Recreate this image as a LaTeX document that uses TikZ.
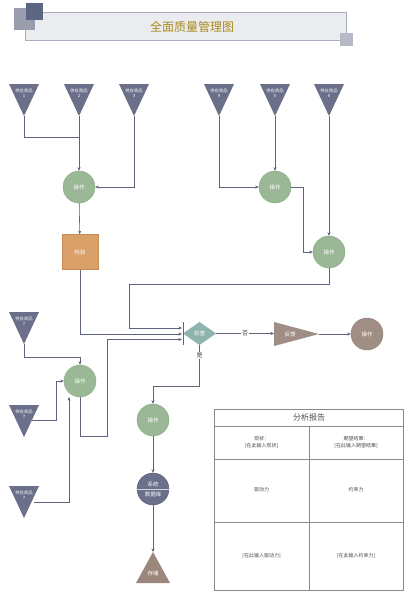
\documentclass[tikz,border=0pt]{standalone}
\usepackage{fontspec}
\setmainfont{Noto Sans CJK SC}
\usetikzlibrary{shapes.geometric,arrows.meta}
\definecolor{lnc}{HTML}{5E6380}
\definecolor{trif}{HTML}{6B6F8A}
\definecolor{opf}{HTML}{9BB896}
\definecolor{opd}{HTML}{86A882}
\definecolor{orf}{HTML}{D9A06A}
\definecolor{ord}{HTML}{C98C55}
\definecolor{diaf}{HTML}{8FB3AD}
\definecolor{brf}{HTML}{A08E84}
\definecolor{dbf}{HTML}{6A6F8A}
\definecolor{stf}{HTML}{9B877C}
\definecolor{goldt}{HTML}{A88A1C}
\definecolor{tbl}{HTML}{8A8A8A}
\definecolor{sqa}{HTML}{9A9DAE}
\definecolor{sqb}{HTML}{5C6582}
\definecolor{sqc}{HTML}{B7B9C7}
\definecolor{banf}{HTML}{EBECEF}
\definecolor{band}{HTML}{A9ACBC}
\tikzset{
  conn/.style={draw=lnc, line width=0.6pt},
  arr/.style={conn, -{Stealth[length=3.5pt,width=3pt]}},
  opnode/.style={circle, minimum size=32pt, inner sep=0pt, fill=opf, draw=opd, line width=0.4pt, text=white, font=\fontsize{5.5}{6}\selectfont},
  tritext/.style={text=white, font=\fontsize{4.3}{5}\selectfont, align=center, inner sep=0pt},
  lbl/.style={fill=white, inner sep=1pt, font=\fontsize{6}{7}\selectfont, text=black!75},
  cell/.style={font=\fontsize{5}{6.5}\selectfont, text=black!70, align=center}
}
\newcommand{\invtri}[4]{%
  \fill[trif] ({#2-15},#3) -- ({#2+15},#3) -- (#2,{#3+32}) -- cycle;
  \node[tritext] (#1) at (#2,{#3+9}) {供应商品\\#4};
  \coordinate (#1-a) at (#2,{#3+32});
}
\begin{document}
\begin{tikzpicture}[x=1pt,y=-1pt]
\useasboundingbox (0,0) rectangle (410,600);
\fill[white] (0,0) rectangle (410,600);
% title
\filldraw[fill=banf, draw=band, line width=0.6pt] (25,12) rectangle (346,40);
\fill[sqa] (14,8) rectangle (35,30);
\fill[sqb] (26,3) rectangle (43,20);
\fill[sqc] (340,33) rectangle (353,46);
\node[text=goldt, font=\fontsize{12}{14}\selectfont] (title) at (192,27) {全面质量管理图};
% top triangles
\invtri{t1}{24}{84}{1}
\invtri{t2}{79}{84}{2}
\invtri{t3}{134}{84}{3}
\invtri{t4}{219}{84}{4}
\invtri{t5}{275}{84}{5}
\invtri{t6}{329}{84}{6}
% left triangles
\invtri{t7}{24}{312}{7}
\invtri{t8}{24}{405}{7}
\invtri{t9}{24}{486}{7}
% operation nodes
\node[opnode] (op1) at (79,187) {操作};
\node[opnode] (op4) at (275,187) {操作};
\node[opnode] (op6) at (329,252) {操作};
\node[opnode] (op7) at (80,381) {操作};
\node[opnode] (op5) at (153,420) {操作};
% check square
\node[rectangle, minimum width=36pt, minimum height=35pt, fill=orf, draw=ord, line width=0.5pt, text=white, font=\fontsize{5.5}{6}\selectfont] (sq) at (80,252) {检验};
% diamond
\fill[diaf] (183,333.5) -- (199.5,322) -- (216,333.5) -- (199.5,345) -- cycle;
\node[text=white, font=\fontsize{5.5}{6}\selectfont, inner sep=0pt] (dia) at (199.5,333.5) {检查};
\coordinate (dia-e) at (216,333.5);
\coordinate (dia-s) at (199.5,345);
\draw[conn] (183,322) -- (183,345);
\coordinate (in1) at (182,328);
\coordinate (in2) at (182,334);
\coordinate (in3) at (182,339.5);
% feedback triangle
\fill[brf] (274,322) -- (319,334) -- (274,346) -- cycle;
\node[text=white, font=\fontsize{5.5}{6}\selectfont] (fb) at (290,334) {反馈};
\coordinate (fb-l) at (274,333.5);
\coordinate (fb-r) at (319,334);
\node[circle, minimum size=32pt, inner sep=0pt, fill=brf, draw=brf!85!black, line width=0.4pt, text=white, font=\fontsize{5.5}{6}\selectfont] (opr) at (367,334) {操作};
% database
\node[circle, minimum size=32pt, inner sep=0pt, fill=dbf, draw=dbf!80!black, line width=0.4pt] (db) at (153,489) {};
\draw[white!70!dbf, line width=0.5pt] (db.west) -- (db.east);
\node[text=white, font=\fontsize{5.5}{6}\selectfont, inner sep=0pt] (db1) at (153,484) {系统};
\node[text=white, font=\fontsize{5.5}{6}\selectfont, inner sep=0pt] (db2) at (153,494) {数据库};
% storage
\fill[stf] (153,552) -- (170,583) -- (136,583) -- cycle;
\node[text=white, font=\fontsize{5.5}{6}\selectfont] (st) at (153,573) {存储};
\coordinate (st-t) at (153,552);
% connectors top-left
\draw[conn] (t1-a) |- (79,137);
\draw[arr] (t2-a) -- (op1);
\draw[arr] (t3-a) |- (op1.east);
\draw[arr] (op1) -- (sq);
\draw[arr] (sq.south) |- (in2);
% connectors top-right
\draw[arr] (t4-a) |- (op4.west);
\draw[arr] (t5-a) -- (op4);
\draw[arr] (op4.east) -- (303,187) |- (op6.west);
\draw[arr] (t6-a) -- (op6);
\draw[arr] (op6.south) -- (329,284) -| (129,328) -- (in1);
% left connectors
\coordinate (t8r) at (32,420);
\coordinate (t9r) at (34,502);
\draw[arr] (t7-a) -- (24,357) -| (op7.north);
\draw[arr] (t8r) -- (56,420) |- (op7.west);
\draw[arr] (t9r) -- (69,502) -- (69,397);
\draw[arr] (op7.south) -- (80,436) -| (107,339.5) -- (in3);
% diamond outputs
\draw[arr] (dia-e) -- node[lbl] (no) {否} (fb-l);
\draw[arr] (fb-r) -- (opr.west);
\draw[arr] (dia-s) -- node[lbl, pos=0.25] (yes) {是} (199.5,386) -| (op5.north);
\draw[arr] (op5) -- (db);
\draw[arr] (db) -- (st-t);
% report table
\draw[tbl, line width=0.6pt] (214,409) rectangle (403,590);
\draw[tbl, line width=0.6pt] (214,426) -- (403,426);
\draw[tbl, line width=0.6pt] (214,459) -- (403,459);
\draw[tbl, line width=0.6pt] (214,522) -- (403,522);
\draw[tbl, line width=0.6pt] (309,426) -- (309,590);
\node[font=\fontsize{8}{9}\selectfont, text=black!70] (rt) at (309,417.5) {分析报告};
\node[cell] (c1) at (261.5,442.5) {现状：\\{[}在此输入现状{]}};
\node[cell] (c2) at (356,442.5) {期望结果：\\{[}在此输入期望结果{]}};
\node[cell] (c3) at (261.5,490) {驱动力};
\node[cell] (c4) at (356,490) {约束力};
\node[cell] (c5) at (261.5,556) {{[}在此输入驱动力{]}};
\node[cell] (c6) at (356,556) {{[}在此输入约束力{]}};
\end{tikzpicture}
\end{document}
